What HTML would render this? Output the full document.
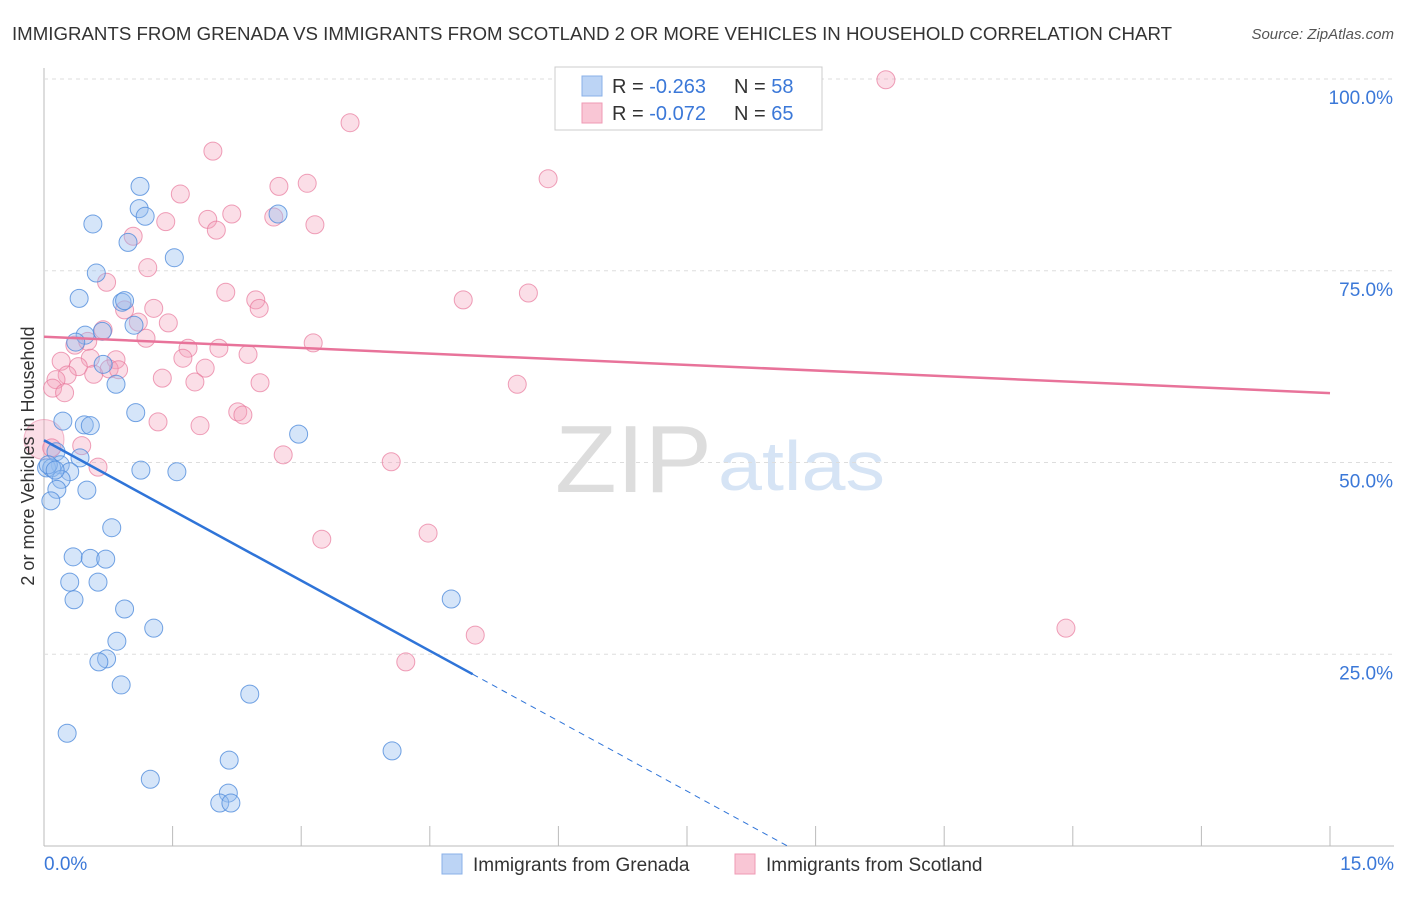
<!DOCTYPE html>
<html><head><meta charset="utf-8"><style>
body{margin:0;background:#fff;font-family:"Liberation Sans",sans-serif;}
svg text{font-family:"Liberation Sans",sans-serif;}
</style></head><body>
<svg id="c" width="1406" height="892">
<text x="12" y="40" font-size="18" fill="#333" textLength="1160" lengthAdjust="spacingAndGlyphs">IMMIGRANTS FROM GRENADA VS IMMIGRANTS FROM SCOTLAND 2 OR MORE VEHICLES IN HOUSEHOLD CORRELATION CHART</text>
<text x="1394" y="39" font-size="15" fill="#555" text-anchor="end" font-style="italic">Source: ZipAtlas.com</text>
<text x="555" y="492" font-size="96" fill="#ddd" font-family="Liberation Serif" textLength="157" lengthAdjust="spacingAndGlyphs">ZIP</text>
<text x="718" y="490" font-size="70" fill="#d6e4f5" textLength="167" lengthAdjust="spacingAndGlyphs">atlas</text>
<g id="grid"></g><g id="pts"></g><g id="lines"></g>
<text transform="translate(34,456) rotate(-90)" font-size="18" fill="#333" text-anchor="middle">2 or more Vehicles in Household</text>
<g>
<rect x="555" y="67" width="267" height="63" fill="#fff" stroke="#ccc"/>
<rect x="582" y="76" width="20" height="20" fill="#bcd4f5" stroke="#8ab0e8"/>
<rect x="582" y="103" width="20" height="20" fill="#f9c6d5" stroke="#ef9ab4"/>
<text x="612" y="93" font-size="20" fill="#333">R = <tspan fill="#3b78d8">-0.263</tspan></text>
<text x="734" y="93" font-size="20" fill="#333">N = <tspan fill="#3b78d8">58</tspan></text>
<text x="612" y="120" font-size="20" fill="#333">R = <tspan fill="#3b78d8">-0.072</tspan></text>
<text x="734" y="120" font-size="20" fill="#333">N = <tspan fill="#3b78d8">65</tspan></text>
</g>
<g>
<rect x="442" y="854" width="20" height="20" fill="#bcd4f5" stroke="#8ab0e8"/>
<text x="473" y="871" font-size="19" fill="#333">Immigrants from Grenada</text>
<rect x="735" y="854" width="20" height="20" fill="#f9c6d5" stroke="#ef9ab4"/>
<text x="766" y="871" font-size="19" fill="#333">Immigrants from Scotland</text>
</g>
</svg>
<script>
const xTicks=[0,1.5,3,4.5,6,7.5,9,10.5,12,13.5,15];
const yTicks=[25,50,75,100];
const bluePx=[[140,186],[139,209],[145,216],[93,224],[128,242],[174,258],[278,214],[96,273],[79,298],[122,302],[125,301],[134,325],[102,331],[85,335],[76,342],[103,364],[116,384],[136,413],[63,421],[84,425],[90,426],[299,434],[80,458],[56,452],[60,465],[47,468],[52,468],[70,472],[61,479],[141,470],[177,472],[87,490],[57,489],[51,501],[112,528],[73,557],[90,558],[106,559],[70,582],[98,582],[74,600],[125,609],[451,599],[154,628],[117,641],[107,659],[99,662],[121,685],[250,694],[67,733],[392,751],[229,760],[150,779],[228,793],[220,803],[231,803],[48,465],[55,470]];
const pinkPx=[[886,80],[350,123],[213,151],[548,179],[180,194],[279,186],[307,183],[166,222],[208,219],[232,214],[216,230],[274,217],[315,225],[133,236],[148,268],[107,282],[226,292],[256,300],[463,300],[528,293],[259,308],[125,310],[154,308],[138,322],[168,323],[146,338],[103,330],[313,343],[75,345],[88,341],[219,348],[188,348],[61,361],[90,358],[116,360],[183,358],[248,354],[78,367],[109,369],[119,370],[67,375],[56,380],[162,378],[94,374],[205,368],[195,382],[260,383],[517,384],[53,388],[65,393],[238,412],[243,415],[158,422],[200,426],[52,448],[82,446],[283,455],[98,467],[391,462],[322,539],[428,533],[475,635],[406,662],[1066,628]];
const blueX=bluePx.map(p=>+((p[0]-44)/1286*15).toFixed(2));
const blueY=bluePx.map(p=>+((846-p[1])/767*100).toFixed(1));
const pinkX=pinkPx.map(p=>+((p[0]-44)/1286*15).toFixed(2));
const pinkY=pinkPx.map(p=>+((846-p[1])/767*100).toFixed(1));
const blueTrend=[52.9,-6.1];
const pinkTrend=[66.4,-0.49];
const X=v=>44+v/15*1286, Y=v=>846-v/100*767;
const NS='http://www.w3.org/2000/svg';
function mk(t,a,p){const e=document.createElementNS(NS,t);for(const k in a)e.setAttribute(k,a[k]);p.appendChild(e);return e;}
const g=document.getElementById('grid');
mk('line',{x1:44,y1:68,x2:44,y2:846,stroke:'#bbb'},g);
mk('line',{x1:44,y1:846,x2:1394,y2:846,stroke:'#bbb'},g);
yTicks.forEach(v=>{const l=mk('line',{x1:44,y1:Y(v),x2:1394,y2:Y(v),stroke:'#ddd','stroke-dasharray':'4,4'},g);


const t=mk('text',{x:1393,y:Y(v)+25,'font-size':19,fill:'#3b78d8','text-anchor':'end'},g);t.textContent=v.toFixed(1)+'%';

});
xTicks.forEach(v=>{const l=mk('line',{x1:X(v),y1:826,x2:X(v),y2:846,stroke:'#bbb'},g);

});
[[0,'start',44],[15,'end',1394]].forEach(a=>{const t=mk('text',{x:a[2],y:870,'font-size':19,fill:'#3b78d8','text-anchor':a[1]},g);t.textContent=a[0].toFixed(1)+'%';

});
const P=document.getElementById('pts');
const big=mk('circle',{cx:X(0),cy:Y(53),r:20,fill:'rgba(244,160,185,0.35)',stroke:'rgba(232,120,155,0.5)'},P);


pinkX.forEach((x,i)=>{const c=mk('circle',{cx:X(x),cy:Y(pinkY[i]),r:9,fill:'rgba(244,160,185,0.35)',stroke:'rgba(232,120,155,0.7)'},P);

});
blueX.forEach((x,i)=>{const c=mk('circle',{cx:X(x),cy:Y(blueY[i]),r:9,fill:'rgba(150,190,240,0.4)',stroke:'rgba(80,140,220,0.8)'},P);

});
const L=document.getElementById('lines');
const bf=x=>blueTrend[0]+blueTrend[1]*x, pf=x=>pinkTrend[0]+pinkTrend[1]*x;
let l=mk('line',{x1:X(0),y1:Y(bf(0)),x2:X(5),y2:Y(bf(5)),stroke:'#2f74d8','stroke-width':2.5},L);


const xe=-blueTrend[0]/blueTrend[1];
l=mk('line',{x1:X(5),y1:Y(bf(5)),x2:X(xe),y2:Y(0),stroke:'#2f74d8','stroke-width':1,'stroke-dasharray':'6,5'},L);


l=mk('line',{x1:X(0),y1:Y(pf(0)),x2:X(15),y2:Y(pf(15)),stroke:'#e8739a','stroke-width':2.5},L);


</script>
</body></html>
